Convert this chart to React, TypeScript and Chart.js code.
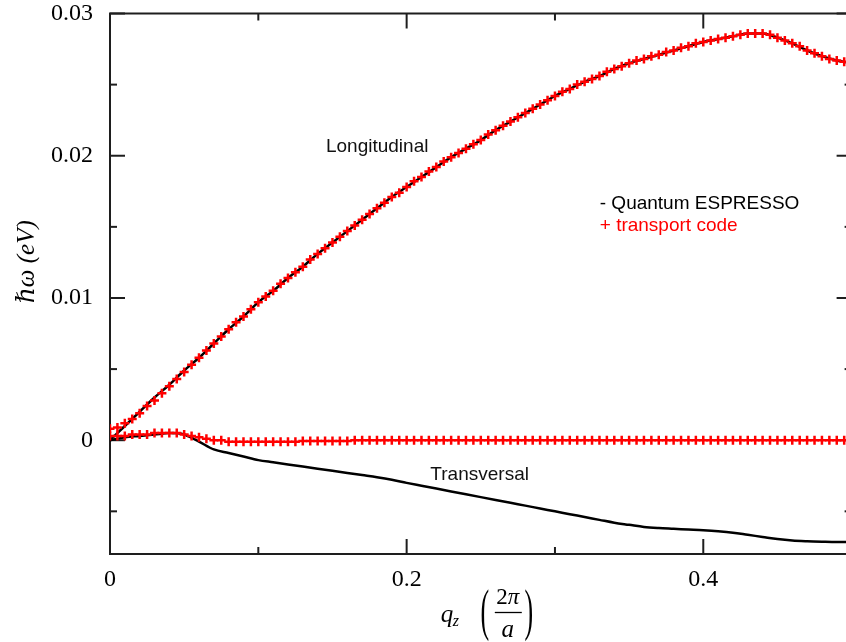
import React, { useEffect, useRef } from "react";
import { Chart, registerables } from "chart.js";

Chart.register(...registerables);

// ---- data ----
const qQE = [0.00,0.01,0.02,0.03,0.04,0.05,0.06,0.07,0.08,0.09,0.10,0.11,0.12,0.13,0.14,0.15,0.16,0.17,0.18,0.19,0.20,0.21,0.22,0.23,0.24,0.25,0.26,0.27,0.28,0.29,0.30,0.31,0.32,0.33,0.34,0.35,0.36,0.37,0.38,0.39,0.40,0.41,0.42,0.43,0.44,0.45,0.46,0.47,0.48,0.49,0.50];

const longQE = [0.0000,0.0010,0.0020,0.0030,0.0039,0.0049,0.0058,0.0068,0.0078,0.0087,0.0097,0.0105,0.0114,0.0122,0.0131,0.0139,0.0147,0.0155,0.0163,0.0171,0.0178,0.0185,0.0192,0.0199,0.0205,0.0211,0.0218,0.0224,0.0230,0.0236,0.0242,0.0247,0.0252,0.0256,0.0261,0.0265,0.0268,0.0271,0.0274,0.0277,0.0280,0.0282,0.0284,0.0286,0.0286,0.0283,0.0279,0.0274,0.0270,0.0267,0.0265];

const transQE = [0.0000,0.0002,0.0003,0.0004,0.0005,0.0004,-0.0001,-0.00065,-0.0009,-0.00115,-0.0014,-0.00155,-0.0017,-0.00185,-0.0020,-0.00215,-0.0023,-0.00245,-0.0026,-0.00278,-0.0030,-0.0032,-0.0034,-0.0036,-0.0038,-0.0040,-0.0042,-0.0044,-0.0046,-0.0048,-0.0050,-0.0052,-0.0054,-0.0056,-0.0058,-0.00595,-0.0061,-0.00618,-0.00623,-0.00628,-0.00633,-0.0064,-0.0065,-0.00665,-0.0068,-0.00695,-0.00705,-0.0071,-0.00713,-0.00715,-0.00715];

const qTC = [0.000,0.005,0.010,0.015,0.020,0.025,0.030,0.035,0.040,0.045,0.050,0.055,0.060,0.065,0.070,0.075,0.080,0.085,0.090,0.095,0.100,0.105,0.110,0.115,0.120,0.125,0.130,0.135,0.140,0.145,0.150,0.155,0.160,0.165,0.170,0.175,0.180,0.185,0.190,0.195,0.200,0.205,0.210,0.215,0.220,0.225,0.230,0.235,0.240,0.245,0.250,0.255,0.260,0.265,0.270,0.275,0.280,0.285,0.290,0.295,0.300,0.305,0.310,0.315,0.320,0.325,0.330,0.335,0.340,0.345,0.350,0.355,0.360,0.365,0.370,0.375,0.380,0.385,0.390,0.395,0.400,0.405,0.410,0.415,0.420,0.425,0.430,0.435,0.440,0.445,0.450,0.455,0.460,0.465,0.470,0.475,0.480,0.485,0.490,0.495,0.500];

const longTC = [
  0.0008,0.0009,0.0012,0.0015,0.0019,0.0024,0.0028,0.0033,0.0038,0.0043,
  0.0048,0.0053,0.0058,0.0063,0.0068,0.0073,0.0078,0.0083,0.0087,0.0092,
  0.0097,0.0101,0.0105,0.0110,0.0114,0.0118,0.0122,0.0127,0.0131,0.0135,
  0.0139,0.0143,0.0147,0.0151,0.0155,0.0159,0.0163,0.0167,0.0171,0.0174,
  0.0178,0.0182,0.0185,0.0189,0.0192,0.0196,0.0199,0.0202,0.0205,0.0208,
  0.0211,0.0215,0.0218,0.0221,0.0224,0.0227,0.0230,0.0233,0.0236,0.0239,
  0.0242,0.0245,0.0247,0.0250,0.0252,0.0254,0.0256,0.0259,0.0261,0.0263,
  0.0265,0.0267,0.0268,0.0270,0.0271,0.0273,0.0274,0.0276,0.0277,0.0279,
  0.0280,0.0281,0.0282,0.0283,0.0284,0.0285,0.0286,0.0286,0.0286,0.0285,
  0.0283,0.0281,0.0279,0.0277,0.0274,0.0272,0.0270,0.0268,0.0267,0.0266,
  0.0265
];

const transTC = [
  0.0003,0.0003,0.0003,0.0004,0.0004,0.0004,0.0005,0.0005,0.0005,0.0005,
  0.0004,0.0003,0.0002,0.0001,0.0000,0.0000,-0.0001,-0.0001,-0.0001,-0.0001,
  -0.0001,-0.0001,-0.0001,-0.0001,-0.0001,-0.0001,-0.00005,-0.00005,-0.00005,-0.00005,
  -0.00005,-0.00005,-0.00005,0.0000,0.0000,0.0000,0.0000,0.0000,0.0000,0.0000,
  0.0000,0.0000,0.0000,0.0000,0.0000,0.0000,0.0000,0.0000,0.0000,0.0000,
  0.0000,0.0000,0.0000,0.0000,0.0000,0.0000,0.0000,0.0000,0.0000,0.0000,
  0.0000,0.0000,0.0000,0.0000,0.0000,0.0000,0.0000,0.0000,0.0000,0.0000,
  0.0000,0.0000,0.0000,0.0000,0.0000,0.0000,0.0000,0.0000,0.0000,0.0000,
  0.0000,0.0000,0.0000,0.0000,0.0000,0.0000,0.0000,0.0000,0.0000,0.0000,
  0.0000,0.0000,0.0000,0.0000,0.0000,0.0000,0.0000,0.0000,0.0000,0.0000,
  0.0000
];

const xMajorTicks = [0, 0.2, 0.4];
const xTickLabels = ["0", "0.2", "0.4"];
const xMinorTicks = [0.1, 0.3];
const yMajorTicks = [0, 0.01, 0.02, 0.03];
const yTickLabels = ["0", "0.01", "0.02", "0.03"];
const yMinorTicks = [-0.005, 0.005, 0.015, 0.025];

const X_MIN = 0, X_MAX = 0.5, Y_MIN = -0.008, Y_MAX = 0.03;

const annotations = [
  { text: "Longitudinal", q: 0.1456, v: 0.0206, color: "#111" },
  { text: "Transversal", q: 0.216, v: -0.00243, color: "#111" },
];
const legendItems = [
  { text: "- Quantum ESPRESSO", q: 0.3302, v: 0.01663, color: "#000" },
  { text: "+ transport code", q: 0.3302, v: 0.01508, color: "#ff0000" },
];

const framePlugin = {
  id: "gnuFrame",
  beforeDatasetsDraw(chart: any) {
    const { ctx, chartArea } = chart;
    const { left, right, top, bottom } = chartArea;
    const xs = chart.scales.x, ys = chart.scales.y;
    ctx.save();
    ctx.strokeStyle = "#1e1e1e";
    ctx.lineWidth = 2;
    ctx.strokeRect(left, top, right - left, bottom - top);
    const seg = (x1: number, y1: number, x2: number, y2: number) => {
      ctx.beginPath(); ctx.moveTo(x1, y1); ctx.lineTo(x2, y2); ctx.stroke();
    };
    const MAJ = 15, MIN = 7;
    xMajorTicks.forEach((v) => { const p = xs.getPixelForValue(v); seg(p, bottom, p, bottom - MAJ); seg(p, top, p, top + MAJ); });
    xMinorTicks.forEach((v) => { const p = xs.getPixelForValue(v); seg(p, bottom, p, bottom - MIN); seg(p, top, p, top + MIN); });
    yMajorTicks.forEach((v) => { const p = ys.getPixelForValue(v); seg(left, p, left + MAJ, p); seg(right, p, right - MAJ, p); });
    yMinorTicks.forEach((v) => { const p = ys.getPixelForValue(v); seg(left, p, left + MIN, p); seg(right, p, right - MIN, p); });
    ctx.restore();
  },
  afterDraw(chart: any) {
    const { ctx, chartArea } = chart;
    const xs = chart.scales.x, ys = chart.scales.y;
    ctx.save();
    ctx.textAlign = "left";
    ctx.textBaseline = "middle";
    ctx.font = '19px "Liberation Sans", Arial, sans-serif';
    [...annotations, ...legendItems].forEach((a) => {
      ctx.fillStyle = a.color;
      ctx.fillText(a.text, xs.getPixelForValue(a.q), ys.getPixelForValue(a.v));
    });

    // y-axis title
    const serif = '"Liberation Serif", "DejaVu Serif", serif';
    ctx.fillStyle = "#000";
    ctx.save();
    ctx.translate(chartArea.left - 83, (chartArea.top + chartArea.bottom) / 2 - 22);
    ctx.rotate(-Math.PI / 2);
    ctx.textAlign = "center";
    ctx.textBaseline = "middle";
    ctx.font = `italic 25px ${serif}`;
    ctx.fillText("ℏω (eV)", 0, 0);
    ctx.restore();

    // x-axis title: q_z (2π / a)
    const cx = xs.getPixelForValue(0.25);
    ctx.textBaseline = "alphabetic";
    ctx.textAlign = "left";
    ctx.font = `italic 25px ${serif}`;
    ctx.fillText("q", cx - 40, 622);
    ctx.font = `italic 16px ${serif}`;
    ctx.fillText("z", cx - 28, 626);
    // big parentheses
    ctx.font = `26px ${serif}`;
    ctx.textAlign = "center";
    ctx.textBaseline = "middle";
    ctx.save(); ctx.translate(cx + 4, 614); ctx.scale(1, 2.2); ctx.fillText("(", 0, 0); ctx.restore();
    ctx.save(); ctx.translate(cx + 48, 614); ctx.scale(1, 2.2); ctx.fillText(")", 0, 0); ctx.restore();
    // fraction
    ctx.textBaseline = "alphabetic";
    ctx.textAlign = "right";
    ctx.font = `23px ${serif}`;
    ctx.fillText("2", cx + 27, 604);
    ctx.textAlign = "left";
    ctx.font = `italic 23px ${serif}`;
    ctx.fillText("π", cx + 27, 604);
    ctx.strokeStyle = "#000";
    ctx.lineWidth = 1.3;
    ctx.beginPath(); ctx.moveTo(cx + 14, 612.5); ctx.lineTo(cx + 41, 612.5); ctx.stroke();
    ctx.textAlign = "center";
    ctx.font = `italic 25px ${serif}`;
    ctx.fillText("a", cx + 27, 637);
    ctx.restore();
  },
};

export default function App() {
  const ref = useRef<HTMLCanvasElement | null>(null);
  useEffect(() => {
    if (!ref.current) return;
    const serif = '"Liberation Serif", "DejaVu Serif", serif';
    const chart = new Chart(ref.current, {
      type: "scatter",
      data: {
        datasets: [
          {
            label: "transport code (longitudinal)",
            data: qTC.map((q, i) => ({ x: q, y: longTC[i] })),
            showLine: false,
            pointStyle: "cross",
            pointRadius: 4.5,
            borderColor: "#ff0000",
            backgroundColor: "#ff0000",
            borderWidth: 2.5,
            order: 0,
          },
          {
            label: "transport code (transversal)",
            data: qTC.map((q, i) => ({ x: q, y: transTC[i] })),
            showLine: false,
            pointStyle: "cross",
            pointRadius: 4.5,
            borderColor: "#ff0000",
            backgroundColor: "#ff0000",
            borderWidth: 2.5,
            order: 1,
          },
          {
            label: "Quantum ESPRESSO (longitudinal)",
            data: qQE.map((q, i) => ({ x: q, y: longQE[i] })),
            showLine: true,
            pointRadius: 0,
            borderColor: "#000",
            borderWidth: 2.5,
            cubicInterpolationMode: "monotone",
            order: 2,
          },
          {
            label: "Quantum ESPRESSO (transversal)",
            data: qQE.map((q, i) => ({ x: q, y: transQE[i] })),
            showLine: true,
            pointRadius: 0,
            borderColor: "#000",
            borderWidth: 2.5,
            cubicInterpolationMode: "monotone",
            order: 3,
          },
        ],
      },
      options: {
        responsive: false,
        animation: false,
        devicePixelRatio: 1,
        layout: { padding: { left: 0, right: 8.4, top: 13.5, bottom: 0 } },
        plugins: { legend: { display: false }, tooltip: { enabled: false } },
        scales: {
          x: {
            type: "linear",
            min: X_MIN,
            max: X_MAX,
            grid: { display: false, drawTicks: false },
            border: { display: false },
            afterBuildTicks: (s: any) => { s.ticks = xMajorTicks.map((v) => ({ value: v })); },
            afterFit: (s: any) => { s.height = 88; s.paddingLeft = 0; s.paddingRight = 0; },
            ticks: {
              autoSkip: false,
              maxRotation: 0,
              padding: 11,
              color: "#000",
              font: { family: serif, size: 24 },
              callback: (v: any) => xTickLabels[xMajorTicks.indexOf(v)] ?? "",
            },
          },
          y: {
            type: "linear",
            min: Y_MIN,
            max: Y_MAX,
            grid: { display: false, drawTicks: false },
            border: { display: false },
            afterBuildTicks: (s: any) => { s.ticks = yMajorTicks.map((v) => ({ value: v })); },
            afterFit: (s: any) => { s.width = 110; s.paddingTop = 0; s.paddingBottom = 0; },
            ticks: {
              autoSkip: false,
              padding: 17,
              color: "#000",
              font: { family: serif, size: 24 },
              callback: (v: any) => yTickLabels[yMajorTicks.indexOf(v)] ?? "",
            },
          },
        },
      },
      plugins: [framePlugin],
    } as any);
    return () => chart.destroy();
  }, []);

  return (
    <div style={{ position: "absolute", left: 0, top: 0, width: 846, height: 642, overflow: "hidden", background: "#fff" }}>
      <canvas ref={ref} width={860} height={642} style={{ display: "block", width: 860, height: 642 }} />
    </div>
  );
}
